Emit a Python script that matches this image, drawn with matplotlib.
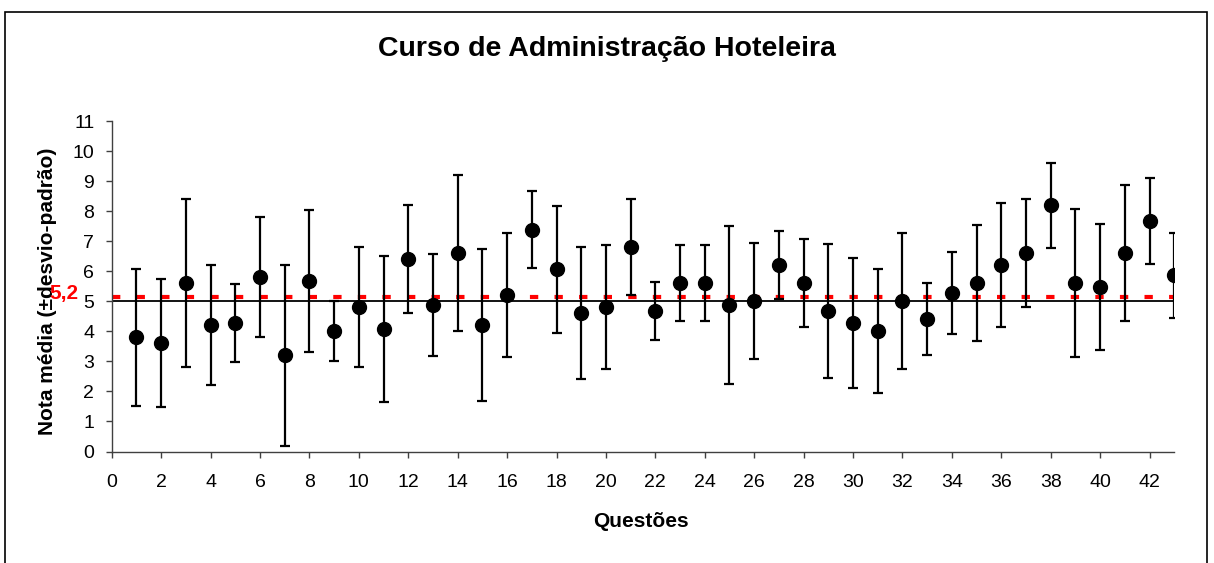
import matplotlib
matplotlib.use("Agg")
import matplotlib.pyplot as plt
from matplotlib.patches import Rectangle
import numpy as np

plt.rcParams['font.family'] = ['Liberation Sans', 'DejaVu Sans']

# Data
questions = np.arange(1, 44)
means = [3.80, 3.60, 5.60, 4.20, 4.27, 5.80, 3.20, 5.67, 4.00, 4.80,
         4.07, 6.40, 4.87, 6.60, 4.20, 5.20, 7.39, 6.06, 4.60, 4.80,
         6.80, 4.67, 5.60, 5.60, 4.87, 5.00, 6.20, 5.60, 4.67, 4.27,
         4.00, 5.00, 4.40, 5.27, 5.60, 6.20, 6.60, 8.19, 5.60, 5.47,
         6.60, 7.66, 5.86]
std_devs = [2.27, 2.13, 2.80, 2.00, 1.30, 2.00, 3.00, 2.36, 1.00, 2.00,
            2.43, 1.80, 1.70, 2.60, 2.53, 2.06, 1.27, 2.10, 2.20, 2.06,
            1.60, 0.97, 1.27, 1.27, 2.63, 1.93, 1.13, 1.46, 2.23, 2.16,
            2.06, 2.26, 1.20, 1.36, 1.93, 2.06, 1.80, 1.40, 2.46, 2.10,
            2.27, 1.43, 1.43]
reference_value = 5.0
overall_mean = 5.13
overall_label = "5,2"

title = "Curso de Administração Hoteleira"
x_label = "Questões"
y_label = "Nota média (±desvio-padrão)"

FIG_DPI = 100
fig = plt.figure(figsize=(12.14, 5.63), dpi=FIG_DPI)
ax = fig.add_axes([0.092, 0.198, 0.8753, 0.587])

# Reference lines
ax.axhline(reference_value, color='black', lw=1.3, zorder=1)
red_line, = ax.plot([0, 43], [overall_mean, overall_mean], color='#ff0000', lw=3, zorder=2)
red_line.set_dashes((2.0, 3.9))

# Means with standard deviation bars
ax.errorbar(questions, means, yerr=std_devs, fmt='o', color='black',
            ms=10, ecolor='black', elinewidth=1.6, capsize=3.6, capthick=1.6, zorder=3)

ax.set_xlim(0, 43)
ax.set_ylim(0, 11)
ax.set_xticks(np.arange(0, 43, 2))
ax.set_yticks(np.arange(0, 12, 1))

for side in ['top', 'right']:
    ax.spines[side].set_visible(False)
for side in ['left', 'bottom']:
    ax.spines[side].set_color('#404040')
    ax.spines[side].set_linewidth(1)

ax.tick_params(axis='both', direction='out', length=4, width=1, color='#404040', labelsize=14)
ax.tick_params(axis='y', pad=8.5)
ax.tick_params(axis='x', pad=12)

# Texts
fig.text(0.5, 0.913, title, ha='center', va='center', fontsize=20.5, fontweight='bold')
fig.text(0.528, 0.073, x_label, ha='center', va='center', fontsize=15, fontweight='bold')
fig.text(0.0395, 0.483, y_label, ha='center', va='center', rotation=90, fontsize=15, fontweight='bold')
fig.text(0.0645, 0.478, overall_label, ha='right', va='center', fontsize=15,
         fontweight='bold', color='#ff0000')

# Chart frame
frame = Rectangle((5 / 1214, -0.05), 1202 / 1214, 1.05 - 12 / 563, transform=fig.transFigure,
                  fill=False, edgecolor='black', lw=1.2)
fig.patches.append(frame)

fig.savefig('out.png', dpi=FIG_DPI)
